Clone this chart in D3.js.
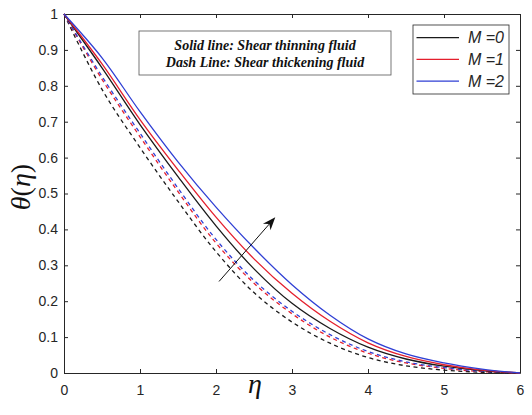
<!DOCTYPE html>
<html>
<head>
<meta charset="utf-8">
<script src="https://cdn.jsdelivr.net/npm/d3@7"></script>
<style>
  body { margin: 0; background: #fff; }
  svg { display: block; }
</style>
</head>
<body>
<svg id="chart"></svg>
<script>
// values
var eta = [0, 0.5, 1, 1.5, 2, 2.5, 3, 3.5, 4, 4.5, 5, 5.5, 6];

// solid lines: shear thinning fluid
var thinM0 = [1, 0.850, 0.692, 0.547, 0.410, 0.290, 0.194, 0.124, 0.072, 0.039, 0.019, 0.007, 0];
var thinM1 = [1, 0.861, 0.706, 0.566, 0.434, 0.318, 0.222, 0.144, 0.084, 0.046, 0.023, 0.008, 0];
var thinM2 = [1, 0.878, 0.728, 0.588, 0.462, 0.348, 0.246, 0.161, 0.095, 0.053, 0.028, 0.011, 0];

// dashed lines: shear thickening fluid
var thickM0 = [1, 0.790, 0.628, 0.478, 0.338, 0.224, 0.142, 0.083, 0.043, 0.020, 0.008, 0.002, 0];
var thickM1 = [1, 0.818, 0.658, 0.505, 0.362, 0.250, 0.165, 0.100, 0.055, 0.028, 0.013, 0.004, 0];
var thickM2 = [1, 0.826, 0.668, 0.515, 0.372, 0.258, 0.172, 0.107, 0.060, 0.031, 0.015, 0.005, 0];

var legendLabels = ["M =0", "M =1", "M =2"];
var seriesColors = ["#1a1a1a", "#e41f2d", "#2f3fd4"];

var xTicks = [0, 1, 2, 3, 4, 5, 6];
var yTicks = [0, 0.1, 0.2, 0.3, 0.4, 0.5, 0.6, 0.7, 0.8, 0.9, 1];
var yTickLabels = ["0", "0.1", "0.2", "0.3", "0.4", "0.5", "0.6", "0.7", "0.8", "0.9", "1"];

var noteLines = ["Solid line: Shear thinning fluid", "Dash Line: Shear thickening fluid"];

// arrow showing increasing M (data coordinates: tail, head)
var arrowTail = [2.04, 0.255],
    arrowHead = [2.78, 0.434];

var width = 532,
    height = 415,
    margin = {top: 14, right: 12, bottom: 42, left: 64},
    innerwidth = width - margin.left - margin.right,
    innerheight = height - margin.top - margin.bottom,
    axisColor = "#262626",
    sansFont = "'Liberation Sans', Arial, sans-serif",
    serifFont = "'Liberation Serif', 'Times New Roman', serif";

var x = d3.scaleLinear().domain([0, 6]).range([0, innerwidth]);
var y = d3.scaleLinear().domain([0, 1]).range([innerheight, 0]);

var svg = d3.select("#chart")
    .attr("width", width)
    .attr("height", height);

var g = svg.append("g")
    .attr("transform", "translate(" + margin.left + "," + margin.top + ")");

//
// axes, ticks pointing inwards on all four sides
//
function styleAxis(sel) {
    sel.select(".domain").attr("stroke", axisColor).attr("stroke-width", 1);
    sel.selectAll(".tick line").attr("stroke", axisColor);
    sel.selectAll(".tick text")
        .attr("fill", axisColor)
        .style("font-family", sansFont)
        .style("font-size", "14px");
}

g.append("g")
    .attr("transform", "translate(0," + innerheight + ")")
    .call(d3.axisBottom(x).tickValues(xTicks).tickFormat(d3.format("d"))
        .tickSize(-4).tickSizeOuter(0).tickPadding(12))
    .call(styleAxis);

g.append("g")
    .call(d3.axisLeft(y).tickValues(yTicks).tickFormat(function(d, i) { return yTickLabels[i]; })
        .tickSize(-4).tickSizeOuter(0).tickPadding(6))
    .call(styleAxis);

g.append("g")
    .call(d3.axisTop(x).tickValues(xTicks).tickFormat("")
        .tickSize(-4).tickSizeOuter(0))
    .call(styleAxis);

g.append("g")
    .attr("transform", "translate(" + innerwidth + ",0)")
    .call(d3.axisRight(y).tickValues(yTicks).tickFormat("")
        .tickSize(-4).tickSizeOuter(0))
    .call(styleAxis);

//
// curves
//
var line = d3.line()
    .x(function(d) { return x(d[0]); })
    .y(function(d) { return y(d[1]); })
    .curve(d3.curveCatmullRom.alpha(0.5));

var dashed = [thickM0, thickM1, thickM2],
    solid = [thinM0, thinM1, thinM2];

function addCurves(list, dash) {
    g.selectAll(null)
        .data(list)
        .enter().append("path")
        .attr("fill", "none")
        .attr("stroke", function(_, i) { return seriesColors[i]; })
        .attr("stroke-width", 1.3)
        .attr("stroke-dasharray", dash)
        .attr("d", function(vals) { return line(d3.zip(eta, vals)); });
}

addCurves(dashed, "4,3.5");
addCurves(solid, null);

//
// arrow
//
var ax0 = x(arrowTail[0]), ay0 = y(arrowTail[1]),
    ax1 = x(arrowHead[0]), ay1 = y(arrowHead[1]),
    ang = Math.atan2(ay1 - ay0, ax1 - ax0) * 180 / Math.PI;

g.append("line")
    .attr("x1", ax0).attr("y1", ay0)
    .attr("x2", ax1 - 6 * Math.cos(ang * Math.PI / 180))
    .attr("y2", ay1 - 6 * Math.sin(ang * Math.PI / 180))
    .attr("stroke", "#111")
    .attr("stroke-width", 1);

g.append("path")
    .attr("d", "M0,0 L-13,-5 L-9,0 L-13,5 Z")
    .attr("fill", "#111")
    .attr("transform", "translate(" + ax1 + "," + ay1 + ") rotate(" + ang + ")");

//
// note box
//
var note = g.append("g").attr("transform", "translate(75,17)");

note.append("rect")
    .attr("width", 252).attr("height", 44)
    .attr("fill", "#fff")
    .attr("stroke", "#555")
    .attr("stroke-width", 0.8);

note.selectAll("text")
    .data(noteLines)
    .enter().append("text")
    .attr("x", 126)
    .attr("y", function(_, i) { return 19 + i * 17; })
    .attr("text-anchor", "middle")
    .style("font-family", serifFont)
    .style("font-style", "italic")
    .style("font-weight", "bold")
    .style("font-size", "14px")
    .attr("fill", "#111")
    .text(function(d) { return d; });

//
// legend
//
var legend = g.append("g").attr("transform", "translate(" + (innerwidth - 107) + ",11)");

legend.append("rect")
    .attr("width", 96).attr("height", 69)
    .attr("fill", "#fff")
    .attr("stroke", axisColor)
    .attr("stroke-width", 0.8);

var items = legend.selectAll(".item")
    .data(legendLabels)
    .enter().append("g")
    .attr("class", "item")
    .attr("transform", function(_, i) { return "translate(0," + (12.7 + i * 21.7) + ")"; });

items.append("line")
    .attr("x1", 3.5).attr("x2", 46)
    .attr("stroke", function(_, i) { return seriesColors[i]; })
    .attr("stroke-width", 1.3);

items.append("text")
    .attr("x", 55)
    .attr("dy", "0.36em")
    .style("font-family", sansFont)
    .style("font-style", "italic")
    .style("font-size", "16px")
    .attr("fill", axisColor)
    .text(function(d) { return d; });

//
// axis labels
//
svg.append("text")
    .attr("x", 255)
    .attr("y", 393)
    .attr("text-anchor", "middle")
    .style("font-family", serifFont)
    .style("font-style", "italic")
    .style("font-size", "28px")
    .attr("fill", "#111")
    .text("\u03b7");

var ylab = svg.append("text")
    .attr("transform", "translate(30,187) rotate(-90)")
    .attr("text-anchor", "middle")
    .style("font-family", serifFont)
    .style("font-size", "28px")
    .attr("fill", "#111");

ylab.append("tspan").style("font-style", "italic").text("\u03b8");
ylab.append("tspan").text("(");
ylab.append("tspan").style("font-style", "italic").text("\u03b7");
ylab.append("tspan").text(")");
</script>
</body>
</html>
